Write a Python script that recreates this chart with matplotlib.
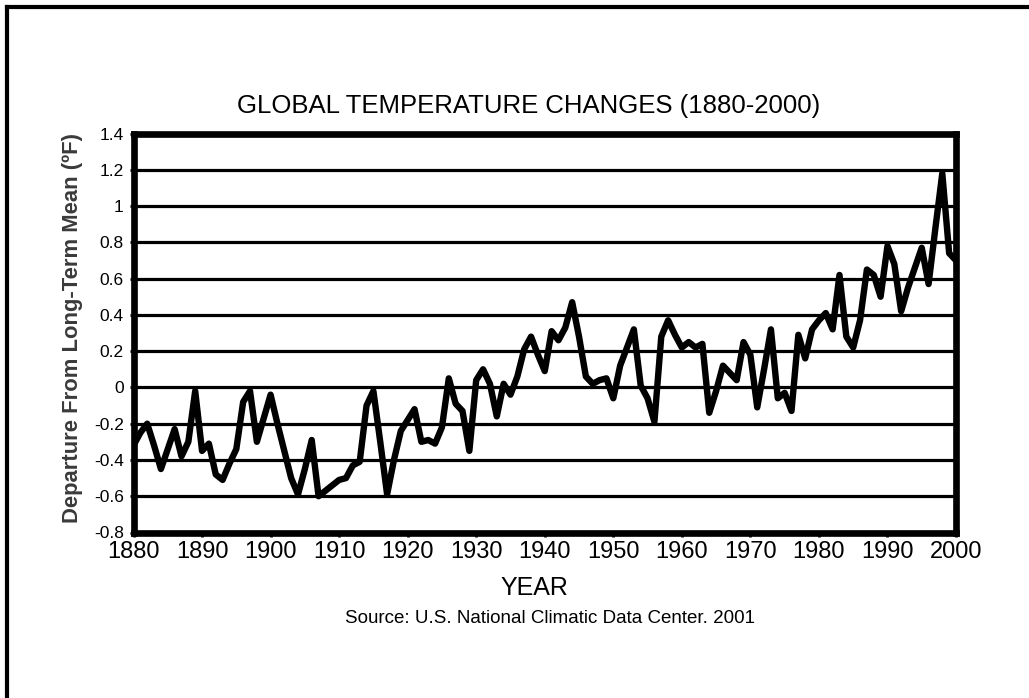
import numpy as np
import matplotlib
matplotlib.use("Agg")
import matplotlib.pyplot as plt
from matplotlib.lines import Line2D

plt.rcParams['font.family'] = ['Liberation Sans', 'DejaVu Sans']

# annual departures from long-term mean (deg F)
years = list(range(1880, 2001))
temps = [
    -0.32, -0.25, -0.20, -0.32, -0.45, -0.34, -0.23, -0.38, -0.30, -0.02,   # 1880s
    -0.35, -0.31, -0.48, -0.51, -0.42, -0.34, -0.08, -0.02, -0.30, -0.17,   # 1890s
    -0.04, -0.20, -0.35, -0.50, -0.59, -0.45, -0.29, -0.60, -0.57, -0.54,   # 1900s
    -0.51, -0.50, -0.43, -0.41, -0.10, -0.02, -0.30, -0.59, -0.40, -0.24,   # 1910s
    -0.18, -0.12, -0.30, -0.29, -0.31, -0.22, 0.05, -0.09, -0.13, -0.35,    # 1920s
    0.04, 0.10, 0.02, -0.16, 0.02, -0.04, 0.06, 0.21, 0.28, 0.18,           # 1930s
    0.09, 0.31, 0.26, 0.33, 0.47, 0.28, 0.06, 0.02, 0.04, 0.05,             # 1940s
    -0.06, 0.12, 0.22, 0.32, 0.01, -0.06, -0.19, 0.28, 0.37, 0.29,          # 1950s
    0.22, 0.25, 0.22, 0.24, -0.14, -0.02, 0.12, 0.08, 0.04, 0.25,           # 1960s
    0.18, -0.11, 0.10, 0.32, -0.06, -0.03, -0.13, 0.29, 0.16, 0.32,         # 1970s
    0.37, 0.41, 0.32, 0.62, 0.28, 0.22, 0.37, 0.65, 0.62, 0.50,             # 1980s
    0.78, 0.68, 0.42, 0.55, 0.66, 0.77, 0.57, 0.88, 1.18, 0.74,             # 1990s
    0.70,                                                                   # 2000
]
yticks = [-0.8, -0.6, -0.4, -0.2, 0, 0.2, 0.4, 0.6, 0.8, 1, 1.2, 1.4]
ytick_labels = ['-0.8', '-0.6', '-0.4', '-0.2', '0', '0.2', '0.4', '0.6', '0.8', '1', '1.2', '1.4']
xticks = list(range(1880, 2001, 10))

W, H = 1029, 698
fig = plt.figure(figsize=(W / 100, H / 100), dpi=100)
ax = fig.add_axes([133.5 / W, 1 - 532.5 / H, (956 - 133.5) / W, (532.5 - 133.5) / H])

# horizontal grid lines
for yv in yticks[1:-1]:
    ax.axhline(yv, color='black', lw=2.3, zorder=1)

ax.plot(years, temps, color='black', lw=4.6, solid_joinstyle='round', zorder=3)

ax.set_xlim(1880, 2000)
ax.set_ylim(-0.8, 1.4)
ax.set_xticks(xticks)
ax.set_xticklabels([str(x) for x in xticks], fontsize=17)
ax.set_yticks(yticks)
ax.set_yticklabels(ytick_labels, fontsize=12.5)
ax.tick_params(axis='both', length=3, width=2, color='black', pad=4)
ax.tick_params(axis='x', pad=3)

for sp in ax.spines.values():
    sp.set_linewidth(4.8)
    sp.set_color('black')
    sp.set_zorder(4)

# texts placed in figure pixels
def px(x, y):
    return x / W, 1 - y / H

fig.text(*px(529, 113), 'GLOBAL TEMPERATURE CHANGES (1880-2000)', fontsize=18.5,
         ha='center', va='baseline')
fig.text(*px(534, 595), 'YEAR', fontsize=18, ha='center', va='baseline')
fig.text(*px(550, 623), 'Source: U.S. National Climatic Data Center. 2001', fontsize=13.5,
         ha='center', va='baseline')
fig.text(*px(73, 328), 'Departure From Long-Term Mean (ºF)', fontsize=15.8, fontweight='bold',
         color='#3a3a3a', rotation=90, ha='center', va='center')

# border on top and left edges
fig.add_artist(Line2D([7 / W, 7 / W], [0, 1 - 7 / H], transform=fig.transFigure,
                      color='black', lw=3, solid_capstyle='projecting'))
fig.add_artist(Line2D([7 / W, 1], [1 - 7 / H, 1 - 7 / H], transform=fig.transFigure,
                      color='black', lw=3, solid_capstyle='projecting'))

fig.savefig('out.png', dpi=100, facecolor='white')
